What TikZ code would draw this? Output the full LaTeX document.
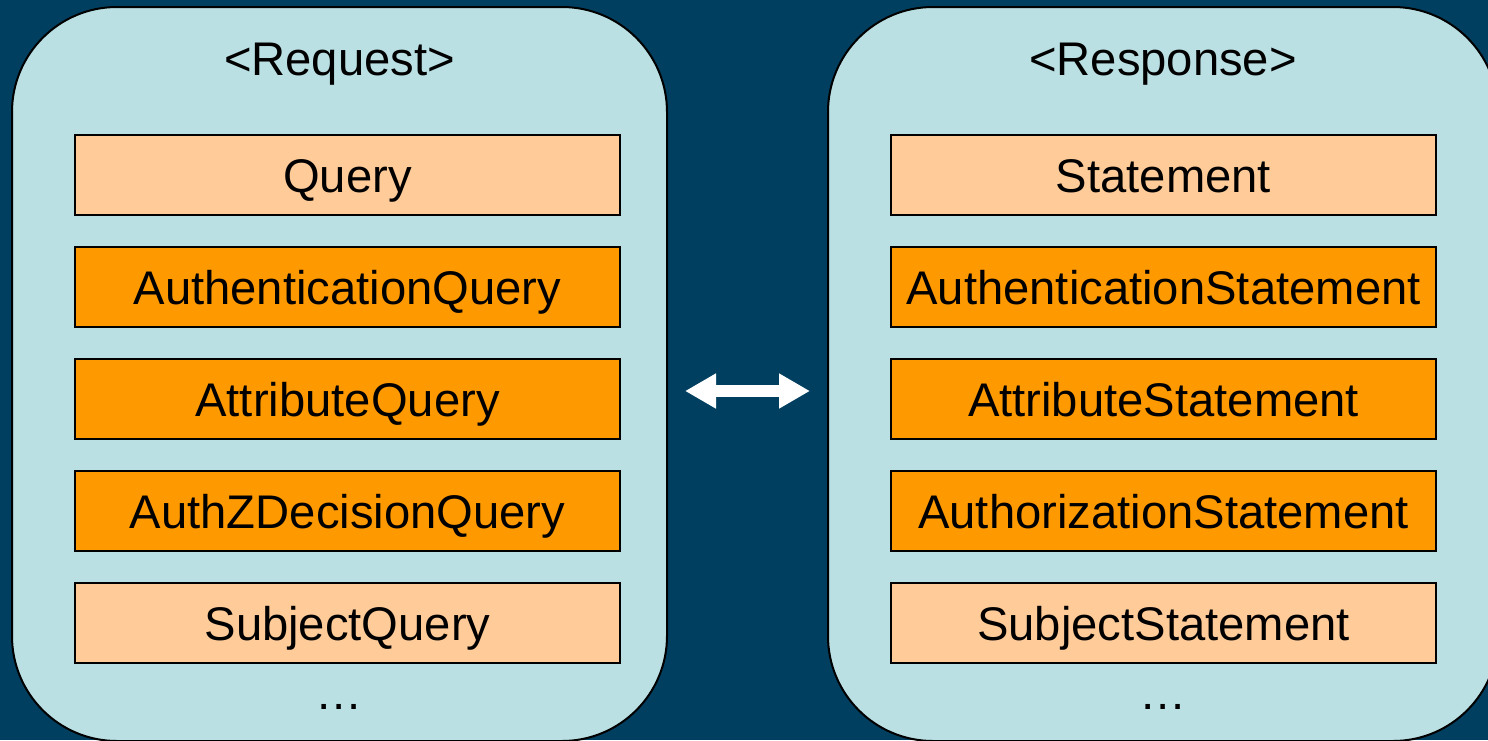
\documentclass[tikz,border=0pt]{standalone}
\usepackage{fontspec}
\setmainfont{Liberation Sans}
\usetikzlibrary{positioning,arrows.meta}

\definecolor{bgblue}{RGB}{0,63,95}
\definecolor{panelblue}{RGB}{186,224,227}
\definecolor{paleorange}{RGB}{255,204,153}
\definecolor{deeporange}{RGB}{255,153,0}

\begin{document}
\begin{tikzpicture}[
  x=0.5pt, y=-0.5pt,
  font=\fontsize{23.6}{28}\selectfont,
  caps/.style={text height=17pt, text depth=0pt},
  panel/.style={rectangle, draw, line width=1pt, fill=panelblue, rounded corners=52.5pt,
    minimum width=#1, minimum height=367pt, inner sep=0pt},
  entry/.style={caps, rectangle, draw, line width=1pt, minimum width=272.5pt, minimum height=40pt, inner sep=0pt},
  plain/.style={entry, fill=paleorange},
  special/.style={entry, fill=deeporange},
  node distance=15pt,
  link/.style={draw=white, line width=6pt, {Triangle[length=15.5pt, width=16.5pt]}-{Triangle[length=15.5pt, width=16.5pt]},
    shorten <=8.5pt, shorten >=8.5pt}
]
\fill[bgblue] (0,0) rectangle (1488,740);
\useasboundingbox (0,0) rectangle (1488,740);
\clip (0,0) rectangle (1488,740);

% request side
\node[panel=327.5pt] (req) at (339.5,374) {};
\node[caps] (reqtitle) at (339.5,58.5) {<Request>};
\node[plain] (query) at (347.5,175) {Query};
\node[special, below=of query] (authnq) {AuthenticationQuery};
\node[special, below=of authnq] (attrq) {AttributeQuery};
\node[special, below=of attrq] (authzq) {AuthZDecisionQuery};
\node[plain, below=of authzq] (subjq) {SubjectQuery};
\node (reqmore) at (339.5,707) {…};

% response side
\node[panel=335pt] (resp) at (1163,374) {};
\node[caps] (resptitle) at (1163,58.5) {<Response>};
\node[plain] (stmt) at (1163.5,175) {Statement};
\node[special, below=of stmt] (authns) {AuthenticationStatement};
\node[special, below=of authns] (attrs) {AttributeStatement};
\node[special, below=of attrs] (authzs) {AuthorizationStatement};
\node[plain, below=of authzs] (subjs) {SubjectStatement};
\node (respmore) at (1163,707) {…};

\draw[link] ([yshift=-8.5pt]req.east) -- ([yshift=-8.5pt]resp.west);
\end{tikzpicture}
\end{document}
